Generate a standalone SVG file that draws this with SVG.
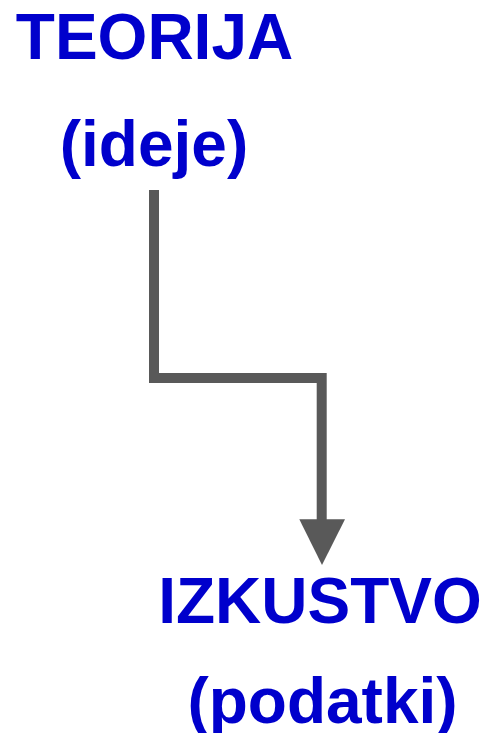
<svg xmlns="http://www.w3.org/2000/svg" width="487" height="733" viewBox="0 0 487 733">
<style>
.t{font-family:"Liberation Sans",Arial,sans-serif;font-weight:bold;font-size:64px;fill:#0000CC;text-anchor:middle}
.c{fill:none;stroke:#595959;stroke-width:10}
</style>
<rect width="487" height="733" fill="#ffffff"/>
<g id="teorija">
<text class="t" x="154.5" y="59">TEORIJA</text>
<text class="t" x="154" y="166">(ideje)</text>
</g>
<g id="izkustvo">
<text class="t" x="320" y="623">IZKUSTVO</text>
<text class="t" x="322.5" y="723">(podatki)</text>
</g>
<g id="connectors">
<path class="c" d="M154 190 V378 H321.7 V522"/>
<polygon points="299.3,519.3 345,519.3 322,565" fill="#595959"/>
</g>
</svg>
